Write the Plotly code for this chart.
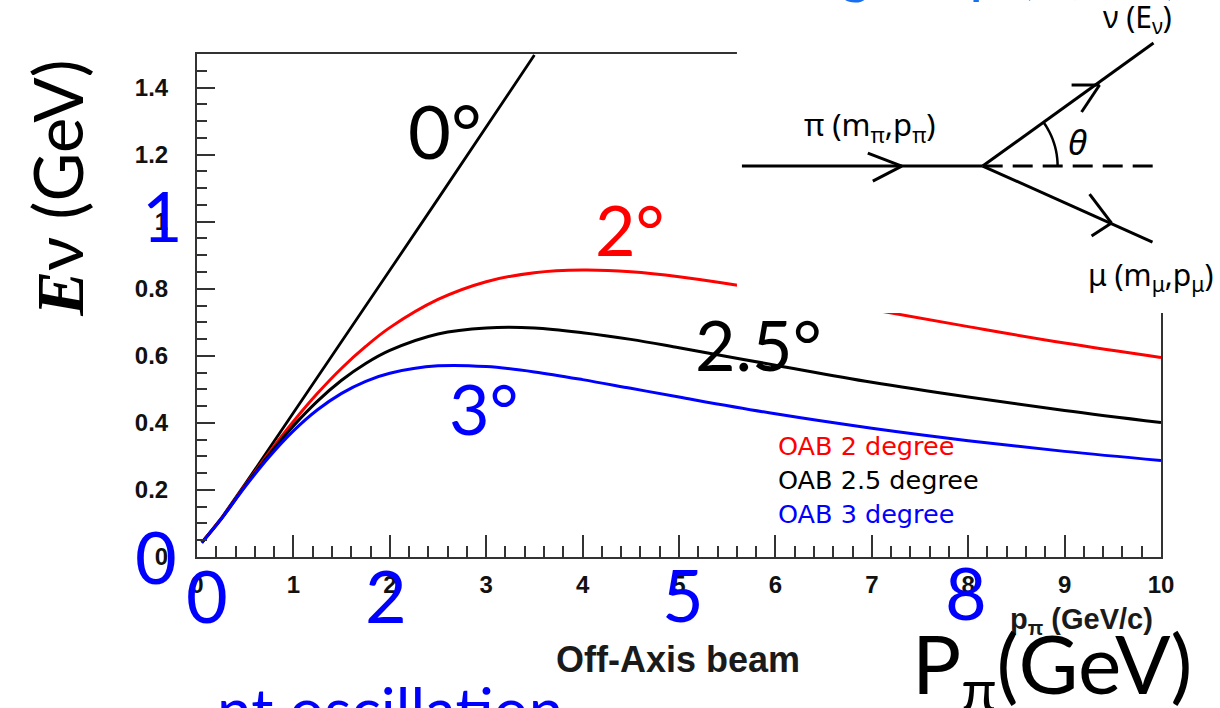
import math
import plotly.graph_objects as go

# ---------------- data ----------------
p_pi = [0.05, 0.25, 0.5, 0.75, 1.0, 1.25, 1.5, 1.75, 2.0, 2.5, 3.0, 3.5,
        4.0, 4.5, 5.0, 6.0, 7.0, 8.0, 9.0, 10.0]
e_2deg = [0.043, 0.114, 0.214, 0.312, 0.404, 0.488, 0.563, 0.628, 0.684, 0.768,
          0.821, 0.848, 0.856, 0.851, 0.836, 0.792, 0.738, 0.687, 0.638, 0.595]
e_25deg = [0.043, 0.113, 0.212, 0.306, 0.391, 0.465, 0.527, 0.577, 0.616, 0.665,
           0.683, 0.683, 0.669, 0.649, 0.624, 0.572, 0.521, 0.477, 0.437, 0.401]
e_3deg = [0.043, 0.113, 0.210, 0.299, 0.376, 0.439, 0.488, 0.524, 0.548, 0.570,
          0.568, 0.552, 0.529, 0.503, 0.477, 0.427, 0.384, 0.347, 0.315, 0.288]
p_0deg = [0.05, 0.25, 0.5, 1.0, 1.5, 2.0, 2.5, 3.0, 3.5]
e_0deg = [0.043, 0.115, 0.218, 0.429, 0.642, 0.855, 1.068, 1.282, 1.497]

x_ticks = [0, 1, 2, 3, 4, 5, 6, 7, 8, 9, 10]
legend_labels = ["OAB 2 degree", "OAB 2.5 degree", "OAB 3 degree"]
curve_colors = ["#ff0000", "#000000", "#0000ff"]

# ---------------- layout geometry ----------------
W, H = 1220, 708
L, R, T, B = 196.5, 58.5, 54.0, 151.2
PW = W - L - R
PH = H - T - B


def px(x):
    return (x - L) / PW


def py(y):
    return (H - B - y) / PH


fig = go.Figure()
fig.add_trace(go.Scatter(x=p_0deg, y=e_0deg, mode="lines",
                         line=dict(color="#000000", width=2.8), showlegend=False))
for ys, c, name in zip([e_2deg, e_25deg, e_3deg], curve_colors, legend_labels):
    fig.add_trace(go.Scatter(x=p_pi, y=ys, mode="lines", name=name,
                             line=dict(color=c, width=3, shape="spline"),
                             showlegend=False))

axcol = "#333333"
tickfont = dict(family="Liberation Sans", size=24, color="#111111", weight="bold")

fig.update_layout(
    width=W, height=H,
    margin=dict(l=L, r=R, t=T, b=B, pad=0),
    paper_bgcolor="white", plot_bgcolor="white",
    showlegend=False,
    xaxis=dict(range=[0, 10], tickvals=x_ticks, ticks="inside", ticklen=22,
               tickwidth=2, tickcolor=axcol, showline=True, linecolor=axcol,
               linewidth=2, mirror=True, showgrid=False, zeroline=False,
               tickfont=tickfont, ticklabelstandoff=5,
               minor=dict(dtick=0.2, ticks="inside", ticklen=11, tickwidth=2,
                          tickcolor=axcol, showgrid=False)),
    yaxis=dict(range=[0, 1.5], dtick=0.2, tick0=0, ticks="inside", ticklen=18,
               tickwidth=2, tickcolor=axcol, showline=True, linecolor=axcol,
               linewidth=2, mirror=True, showgrid=False, zeroline=False,
               tickfont=tickfont, ticklabelstandoff=22,
               minor=dict(dtick=0.05, ticks="inside", ticklen=10, tickwidth=2,
                          tickcolor=axcol, showgrid=False)),
)

shapes = []
# white cover of the inset diagram
shapes.append(dict(type="rect", xref="paper", yref="paper", layer="above",
                   x0=px(737), x1=px(1230), y0=py(313), y1=py(-10),
                   fillcolor="white", line=dict(width=0)))


def seg(x0, y0, x1, y1, dash="solid", w=3):
    return dict(type="line", xref="paper", yref="paper", layer="above",
                x0=px(x0), y0=py(y0), x1=px(x1), y1=py(y1),
                line=dict(color="black", width=w, dash=dash))


vx, vy = 983, 166
shapes += [
    seg(742, vy, vx, vy),
    seg(868, 153, 902, vy), seg(873, 181, 902, vy),
    seg(vx, vy, 1155, vy, dash="20px,10px"),
    seg(vx, vy, 1154, 43),
    seg(1072, 85, 1100, 85), seg(1082, 112, 1100, 85),
    seg(vx, vy, 1153, 242),
    seg(1090, 194, 1112, 223), seg(1092, 236, 1112, 223),
]
# angle arc
rad = 75
ang_end = math.atan2(166 - 43, 1154 - 983)
pts = []
for i in range(13):
    a = ang_end * i / 12
    pts.append((px(vx + rad * math.cos(a)), py(vy - rad * math.sin(a))))
path = "M " + " L ".join(f"{a:.5f},{b:.5f}" for a, b in pts)
shapes.append(dict(type="path", xref="paper", yref="paper", layer="above",
                   path=path, line=dict(color="black", width=2.5)))
fig.update_layout(shapes=shapes)

ann = []


def text(x, y, s, size, color="black", family="Lato", xanchor="center",
         yanchor="middle", angle=0, weight="normal"):
    ann.append(dict(x=px(x), y=py(y), xref="paper", yref="paper", text=s,
                    showarrow=False, xanchor=xanchor, yanchor=yanchor,
                    textangle=angle,
                    font=dict(family=family, size=size, color=color, weight=weight)))


# legend text
for lab, c, yy in zip(legend_labels, curve_colors, [446, 480, 514]):
    text(776, yy, lab, 25.5, color=c, family="DejaVu Sans", xanchor="left")

# ROOT titles
text(678, 659, "Off-Axis beam", 36, color="#1a1a1a", family="Liberation Sans",
     weight="bold")
text(1082, 621, "p<sub>π</sub> (GeV/c)", 29, color="#1a1a1a",
     family="Liberation Sans", weight="bold")

# slide overlays
blue = "#0000ff"
text(155, 556, "0", 72, color=blue)
text(207, 595, "0", 72, color=blue)
text(386, 595, "2", 72, color=blue)
text(683, 594, "5", 72, color=blue)
text(966, 592, "8", 72, color=blue)
text(162, 215, "1", 70, color=blue)
text(445, 130, "0°", 74)
text(630, 229, "2°", 70, color="#ff0000")
text(759, 344, "2.5°", 70)
text(484, 408, "3°", 70, color=blue)
text(56, 188, "<span style='font-family:Liberation Serif'><b><i>E</i></b></span>ν (GeV)",
     67, angle=-90)
text(1052, 668, "P<sub>π</sub>(GeV)", 82)

# inset diagram labels
text(870, 126, "π (m<sub>π</sub>,p<sub>π</sub>)", 31, family="Noto Sans")
text(1078, 141, "<i>θ</i>", 35, family="Noto Sans")
text(1138, 18, "ν (E<sub>ν</sub>)", 30, family="Noto Sans")
text(1151, 276, "μ (m<sub>μ</sub>,p<sub>μ</sub>)", 30, family="Noto Sans")

# cut-off slide text fragments
text(790, 7, "ing on p (θ, Eν)", 60, color="#1a6ff0", xanchor="left",
     yanchor="bottom")
text(215, 748, "nt oscillation", 62, color=blue, xanchor="left",
     yanchor="bottom")

fig.update_layout(annotations=ann)
fig.write_html("out.html")
